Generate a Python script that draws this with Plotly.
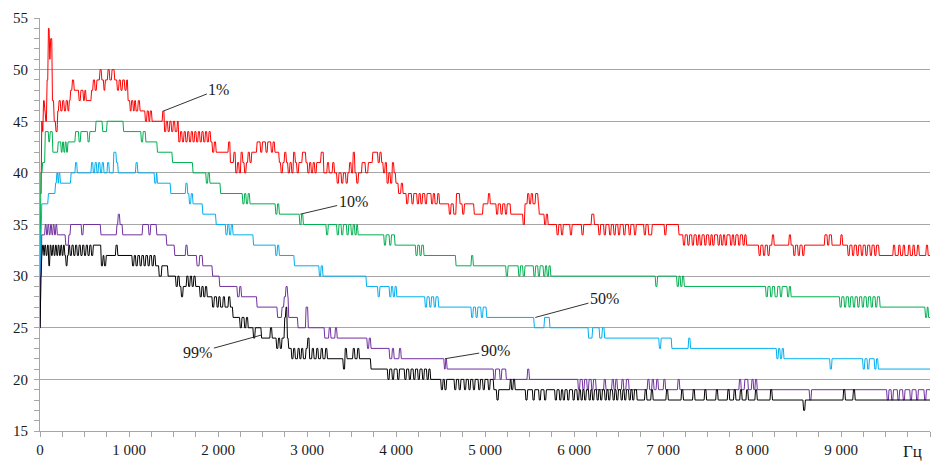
import plotly.graph_objects as go

X_MAX = 10000
EDGE = 8  # Hz used for each step transition

# Step data: (frequency Hz where level starts, level dB)
RED = [(0,38),(20,45),(30,44),(40,47),(55,46),(65,45),(80,49),(95,54),(110,51),(120,53),(140,47),(160,45),(180,44),(200,46),(215,47),(235,46),(255,47),(275,46),(295,47),(315,46),(330,47),(345,48),(365,49),(385,48),(440,47),(460,48),(490,47),(505,48),(520,47),(580,48),(600,49),(620,48),(640,49),(675,50),(695,49),(720,48),(735,49),(765,50),(785,49),(810,50),(840,49),(870,48),(890,49),(910,48),(930,49),(955,48),(975,49),(990,47),(1015,46),(1030,47),(1050,46),(1065,47),(1080,46),(1105,47),(1125,46),(1185,45),(1205,46),(1225,45),(1240,46),(1260,45),(1380,46),(1400,44),(1420,45),(1440,44),(1460,45),(1480,44),(1500,45),(1520,44),(1545,45),(1560,43),(1580,44),(1600,43),(1620,44),(1640,43),(1660,44),(1680,43),(1700,44),(1720,43),(1740,44),(1760,43),(1780,44),(1800,43),(1820,44),(1840,43),(1860,44),(1880,43),(1900,44),(1920,43),(1940,42),(1960,43),(1980,42),(2120,43),(2140,41),(2180,42),(2200,40),(2220,41),(2240,40),(2260,42),(2280,41),(2300,40),(2320,41),(2340,42),(2360,41),(2380,42),(2440,43),(2480,42),(2500,43),(2540,42),(2560,43),(2600,42),(2620,43),(2640,42),(2690,41),(2710,40),(2730,41),(2750,42),(2770,41),(2790,40),(2810,41),(2830,40),(2850,42),(2870,41),(2890,40),(2910,41),(2950,42),(2990,41),(3010,40),(3030,41),(3050,40),(3070,41),(3090,40),(3110,41),(3160,42),(3190,40),(3230,41),(3250,40),(3290,41),(3310,40),(3340,39),(3360,40),(3390,39),(3410,40),(3440,39),(3460,40),(3480,41),(3500,40),(3520,42),(3540,40),(3560,39),(3580,40),(3620,41),(3660,40),(3690,41),(3740,42),(3800,41),(3820,42),(3840,41),(3860,40),(3880,41),(3900,39),(3920,40),(3940,39),(3960,41),(3980,40),(4000,39),(4030,38),(4060,39),(4080,38),(4120,37),(4140,38),(4180,37),(4200,38),(4240,37),(4260,38),(4280,37),(4300,38),(4330,37),(4350,38),(4400,37),(4420,38),(4440,37),(4470,38),(4490,37),(4600,36),(4620,37),(4650,36),(4680,38),(4720,37),(4750,36),(4770,37),(4880,36),(4980,37),(5040,38),(5060,37),(5130,36),(5150,37),(5180,36),(5200,37),(5230,36),(5250,37),(5290,36),(5430,35),(5450,37),(5480,38),(5500,37),(5520,38),(5540,37),(5570,38),(5600,37),(5610,36),(5670,35),(5690,36),(5710,35),(5810,34),(5830,35),(5860,34),(5880,35),(5960,34),(5980,35),(6090,34),(6110,35),(6200,36),(6230,35),(6280,34),(6300,35),(6340,34),(6360,35),(6400,34),(6420,35),(6450,34),(6470,35),(6500,34),(6520,35),(6560,34),(6580,35),(6620,34),(6640,35),(6680,34),(6700,35),(6790,34),(6810,35),(6840,34),(6880,35),(7020,34),(7040,35),(7180,34),(7230,33),(7250,34),(7280,33),(7300,34),(7330,33),(7350,34),(7380,33),(7400,34),(7420,33),(7440,34),(7470,33),(7490,34),(7520,33),(7540,34),(7560,33),(7580,34),(7620,33),(7640,34),(7660,33),(7680,34),(7700,33),(7720,34),(7760,33),(7780,34),(7800,33),(7820,34),(7850,33),(7870,34),(7900,33),(7920,34),(7940,33),(8080,32),(8100,33),(8130,32),(8150,33),(8180,32),(8200,33),(8230,34),(8250,33),(8420,34),(8440,33),(8470,32),(8490,33),(8520,32),(8540,33),(8570,32),(8590,33),(8820,34),(8850,33),(8870,34),(8900,33),(9000,34),(9020,33),(9080,32),(9100,33),(9130,32),(9150,33),(9180,32),(9200,33),(9230,32),(9250,33),(9280,32),(9300,33),(9330,32),(9350,33),(9380,32),(9400,33),(9430,32),(9590,33),(9610,32),(9650,33),(9670,32),(9700,33),(9720,32),(9760,33),(9780,32),(9810,33),(9830,32),(9860,33),(9880,32),(9960,33),(9980,32)]

GREEN = [(0,31),(10,40),(30,41),(60,44),(100,43),(115,44),(145,42),(205,43),(240,42),(255,43),(270,42),(285,43),(300,42),(315,43),(400,44),(440,43),(460,44),(540,43),(560,44),(630,45),(705,44),(755,45),(940,44),(1140,43),(1160,44),(1190,43),(1320,42),(1490,41),(1720,40),(1870,39),(1890,40),(1910,39),(2030,38),(2280,37),(2300,38),(2320,37),(2340,38),(2360,37),(2650,36),(2670,37),(2690,36),(2920,35),(2940,36),(2960,35),(3220,34),(3240,35),(3340,34),(3360,35),(3390,34),(3410,35),(3450,34),(3470,35),(3500,34),(3520,35),(3540,34),(3560,35),(3575,34),(3870,33),(3890,34),(3930,33),(3950,34),(3990,33),(4225,32),(4245,33),(4270,32),(4290,33),(4315,32),(4675,31),(4850,32),(4870,31),(5240,30),(5260,31),(5380,30),(5400,31),(5430,30),(5450,31),(5550,30),(5570,31),(5600,30),(5620,31),(5660,30),(5680,31),(5700,30),(5720,31),(5740,30),(6920,29),(6940,30),(7160,29),(7180,30),(7200,29),(7220,30),(7240,29),(8160,28),(8180,29),(8210,28),(8230,29),(8260,28),(8290,29),(8320,28),(8340,29),(8400,28),(8420,29),(8440,28),(8990,27),(9010,28),(9040,27),(9060,28),(9090,27),(9110,28),(9140,27),(9160,28),(9190,27),(9210,28),(9240,27),(9260,28),(9290,27),(9310,28),(9340,27),(9360,28),(9390,27),(9410,28),(9440,27),(9950,26),(9970,27),(9985,26)]

BLUE = [(0,29),(10,34),(20,37),(95,38),(175,39),(190,40),(205,39),(215,40),(230,39),(350,40),(400,41),(420,40),(580,41),(600,40),(620,41),(640,40),(660,41),(680,40),(700,41),(720,40),(760,41),(780,40),(830,42),(860,41),(880,40),(1080,41),(1100,40),(1290,39),(1310,40),(1320,39),(1470,38),(1640,39),(1660,38),(1680,37),(1700,38),(1720,37),(1830,36),(1980,35),(2090,34),(2110,35),(2130,34),(2150,35),(2170,34),(2400,33),(2650,32),(2670,33),(2690,32),(2860,31),(3140,30),(3160,31),(3180,30),(3670,29),(3800,28),(3820,29),(3930,28),(3950,29),(3970,28),(3990,29),(4010,28),(4330,27),(4350,28),(4380,27),(4400,28),(4430,27),(4450,28),(4480,27),(4850,26),(4870,27),(4900,26),(4920,27),(4960,26),(4980,27),(5020,26),(5555,25),(5670,26),(5730,25),(6165,24),(6210,25),(6290,24),(6320,25),(6345,24),(6960,23),(6980,24),(7100,23),(7290,24),(7310,23),(8280,22),(8300,23),(8320,22),(8340,23),(8360,22),(8880,21),(8900,22),(9250,21),(9270,22),(9300,21),(9320,22),(9380,21),(9400,22),(9420,21)]

PURPLE = [(0,25),(10,30),(20,34),(60,35),(75,34),(90,35),(105,34),(120,35),(135,34),(150,35),(165,34),(180,35),(195,34),(290,33),(325,34),(345,35),(470,34),(490,35),(685,34),(865,35),(880,36),(900,35),(930,34),(1155,35),(1225,34),(1245,35),(1313,34),(1425,33),(1515,32),(1640,33),(1660,32),(1765,31),(1795,32),(1830,31),(1940,30),(2020,29),(2220,28),(2245,29),(2265,28),(2440,27),(2670,26),(2720,27),(2745,28),(2765,29),(2785,28),(2795,26),(2900,25),(2990,27),(3015,25),(3200,24),(3250,25),(3270,24),(3320,25),(3340,24),(3680,23),(3700,24),(3720,23),(3930,22),(3960,23),(3980,22),(4040,23),(4060,22),(4545,21),(4560,22),(4575,21),(5100,20),(5120,21),(5170,20),(5190,21),(5240,20),(5480,21),(5500,20),(6050,19),(6070,20),(6100,19),(6120,20),(6150,19),(6170,20),(6200,19),(6220,20),(6250,19),(6340,20),(6360,19),(6430,20),(6450,19),(6470,20),(6490,19),(6540,20),(6560,19),(6590,20),(6620,19),(6830,20),(6850,19),(6880,20),(6900,19),(6930,20),(6950,19),(7010,20),(7030,19),(7170,20),(7190,19),(7860,20),(7880,19),(7920,20),(7960,19),(8000,20),(8020,19),(8040,20),(8060,19),(8650,18),(8670,19),(9520,18),(9540,19),(9570,18),(9590,19),(9640,18),(9660,19),(9700,18),(9720,19),(9780,18),(9800,19),(9850,18),(9870,19),(9940,18),(9960,19)]

BLACK = [(0,25),(10,30),(20,32),(30,33),(45,32),(55,33),(70,32),(85,33),(100,31),(115,33),(130,32),(145,33),(160,32),(175,33),(190,32),(205,33),(220,32),(235,33),(250,32),(265,33),(280,32),(295,31),(310,32),(325,33),(340,32),(360,33),(380,32),(400,33),(420,32),(440,33),(460,32),(480,33),(500,32),(520,33),(540,32),(560,33),(580,32),(600,33),(690,31),(710,32),(725,31),(745,32),(855,33),(875,32),(1040,31),(1060,32),(1080,31),(1100,32),(1125,31),(1145,32),(1170,31),(1190,32),(1215,31),(1235,32),(1260,31),(1280,32),(1300,31),(1340,30),(1370,31),(1440,30),(1530,29),(1550,30),(1570,29),(1590,28),(1610,29),(1650,30),(1670,29),(1690,30),(1710,29),(1730,30),(1750,29),(1800,28),(1820,29),(1840,28),(1860,29),(1880,28),(1940,27),(1960,28),(1990,27),(2010,28),(2030,27),(2060,28),(2080,27),(2120,28),(2140,27),(2170,26),(2250,25),(2270,26),(2300,25),(2320,26),(2340,25),(2400,24),(2420,25),(2490,24),(2590,25),(2610,24),(2660,23),(2680,24),(2700,23),(2720,24),(2750,26),(2765,27),(2780,24),(2795,23),(2830,22),(2850,23),(2870,22),(2900,23),(2920,22),(2940,23),(2960,22),(2990,23),(3010,24),(3030,22),(3060,23),(3080,22),(3110,23),(3130,22),(3160,23),(3180,22),(3210,23),(3230,22),(3410,21),(3430,23),(3450,22),(3520,23),(3540,22),(3570,23),(3590,22),(3720,21),(3910,20),(3930,21),(3960,20),(3980,21),(4020,20),(4040,21),(4100,20),(4120,21),(4150,20),(4170,21),(4200,20),(4220,21),(4250,20),(4270,21),(4300,20),(4320,21),(4350,20),(4370,21),(4390,20),(4510,19),(4530,20),(4550,19),(4570,20),(4660,19),(4680,20),(4710,19),(4730,20),(4770,19),(4790,20),(4820,19),(4840,20),(4870,19),(4890,20),(4930,19),(4950,20),(4980,19),(5000,20),(5040,19),(5060,20),(5100,19),(5135,18),(5155,19),(5285,20),(5300,19),(5320,20),(5340,19),(5460,18),(5480,19),(5540,18),(5560,19),(5610,18),(5630,19),(5670,18),(5690,19),(5790,18),(5810,19),(5840,18),(5860,19),(5880,18),(5900,19),(5930,18),(5950,19),(5990,18),(6010,19),(6040,18),(6060,19),(6080,18),(6100,19),(6120,18),(6140,19),(6170,18),(6190,19),(6210,18),(6230,19),(6260,18),(6280,19),(6300,18),(6320,19),(6350,18),(6370,19),(6390,18),(6410,19),(6440,18),(6460,19),(6480,18),(6500,19),(6530,18),(6550,19),(6570,18),(6590,19),(6620,18),(6640,19),(6660,18),(6680,19),(6710,18),(6800,19),(6820,18),(6870,19),(6890,18),(7040,19),(7060,18),(7210,19),(7230,18),(7340,19),(7360,18),(7470,19),(7490,18),(7600,19),(7620,18),(7730,19),(7750,18),(7800,19),(7820,18),(7870,19),(7890,18),(7940,19),(7960,18),(8040,19),(8060,18),(8210,19),(8230,18),(8580,17),(8600,18),(9030,19),(9050,18),(9140,19),(9160,18)]

SERIES_NAMES = ["1%", "10%", "50%", "90%", "99%"]
SERIES_COLORS = ["#ff0000", "#00b050", "#00b0f0", "#7030a0", "#000000"]

X_TICK_VALUES = [0, 1000, 2000, 3000, 4000, 5000, 6000, 7000, 8000, 9000]
X_TICK_LABELS = ["0", "1 000", "2 000", "3 000", "4 000", "5 000", "6 000", "7 000", "8 000", "9 000"]
Y_TICK_VALUES = [15, 20, 25, 30, 35, 40, 45, 50, 55]

# annotation: (label, pointed x, pointed y, label x, label y)
LABELS = [
    ("1%", 1390, 46.0, 2010, 48.1),
    ("10%", 2925, 36.0, 3518, 37.2),
    ("50%", 5565, 26.0, 6342, 27.8),
    ("90%", 4550, 22.0, 5115, 22.8),
    ("99%", 2490, 24.3, 1774, 22.6),
]


def vertices(steps):
    xs, ys = [], []
    for i, (x0, v) in enumerate(steps):
        x1 = steps[i + 1][0] if i + 1 < len(steps) else X_MAX + EDGE
        xs.append(x0)
        ys.append(v)
        if x1 - EDGE > x0:
            xs.append(x1 - EDGE)
            ys.append(v)
    return xs, ys


FONT = "'Liberation Serif', 'Times New Roman', 'DejaVu Serif', serif"
INK = "#1a1a1a"
AXIS = "#a6a6a6"

fig = go.Figure()
for name, steps, col in zip(SERIES_NAMES, [RED, GREEN, BLUE, PURPLE, BLACK], SERIES_COLORS):
    xs, ys = vertices(steps)
    fig.add_trace(go.Scatter(x=xs, y=ys, mode="lines", name=name,
                             line=dict(color=col, width=1), hoverinfo="skip"))

for text, px, py, tx, ty in LABELS:
    fig.add_annotation(x=px, y=py, ax=tx, ay=ty, axref="x", ayref="y", xref="x", yref="y",
                       text=text, showarrow=True, arrowhead=0, arrowwidth=1,
                       arrowcolor="#333333", standoff=0,
                       font=dict(family=FONT, size=16, color=INK))

fig.add_annotation(x=9800, y=0, xref="x", yref="paper", yanchor="top", yshift=-9,
                   text="Гц", showarrow=False,
                   font=dict(family=FONT, size=17, color=INK))

fig.update_layout(
    width=934, height=462, autosize=False,
    margin=dict(l=40, r=4, t=18, b=31),
    plot_bgcolor="white", paper_bgcolor="white",
    showlegend=False,
    font=dict(family=FONT, size=15, color=INK),
)
fig.update_xaxes(range=[0, X_MAX], tickvals=X_TICK_VALUES, ticktext=X_TICK_LABELS,
                 showgrid=False, zeroline=False, showline=True, linecolor=AXIS, linewidth=1,
                 ticks="outside", ticklen=5, tickcolor=AXIS,
                 minor=dict(dtick=250, ticks="outside", ticklen=5, tickcolor=AXIS, showgrid=False),
                 tickfont=dict(family=FONT, size=15, color=INK))
fig.update_yaxes(range=[15, 55], tickvals=Y_TICK_VALUES,
                 showgrid=True, gridcolor=AXIS, gridwidth=1, zeroline=False,
                 showline=True, linecolor=AXIS, linewidth=1,
                 ticks="outside", ticklen=5, tickcolor=AXIS,
                 minor=dict(dtick=1, ticks="outside", ticklen=5, tickcolor=AXIS, showgrid=False),
                 tickfont=dict(family=FONT, size=15, color=INK), ticklabelstandoff=3)

fig.write_html("out.html", config={"displayModeBar": False},
               post_script="document.body.style.margin='0';document.body.style.padding='0';")
